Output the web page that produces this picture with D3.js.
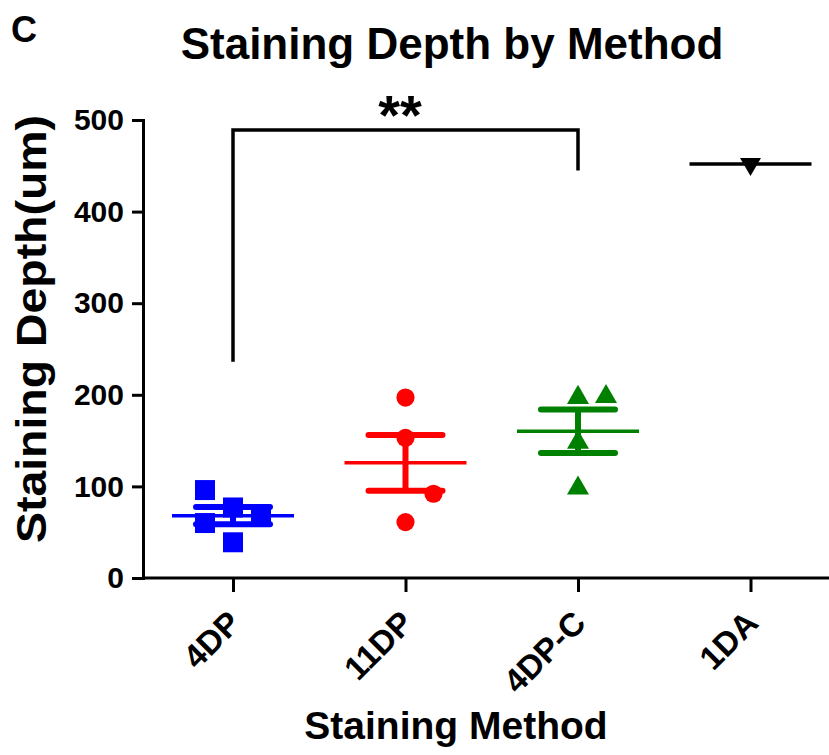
<!DOCTYPE html>
<html>
<head>
<meta charset="utf-8">
<script src="https://cdn.jsdelivr.net/npm/d3@7"></script>
<style>
  body { margin: 0; background: #fff; }
  svg { display: block; font-family: Arial, "Liberation Sans", sans-serif; }
  .axis path, .axis line { stroke: #000; stroke-width: 3; }
  .axis text { font-weight: bold; fill: #000; }
  .y-axis text { font-size: 30px; }
  .x-axis text { font-size: 33px; }
</style>
</head>
<body>
<div id="chart"></div>
<script>
const methods = ['4DP', '11DP', '4DP-C', '1DA'];
const depth4DP = [77, 68, 96, 60, 39];
const depth11DP = [197, 153, 61, 92];
const depth4DPC = [197, 198, 148, 98];
const depth1DA = [452];
const colors = ['#0000ff', '#ff0000', '#008000', '#000000'];
const yTicks = [0, 100, 200, 300, 400, 500];

// significance bracket between 4DP and 4DP-C
const bracketPair = ['4DP', '4DP-C'];
const bracketLevels = [489, 236, 445]; // top, left foot, right foot
const bracketLabel = '**';

const groups = [depth4DP, depth11DP, depth4DPC, depth1DA];

const width = 829;
const height = 755;
const margin = { top: 120, right: 0, bottom: 177, left: 143 };

const svg = d3.select('#chart').append('svg')
  .attr('width', width)
  .attr('height', height);

const x = d3.scalePoint()
  .domain(methods)
  .range([233, 750.5]);

const y = d3.scaleLinear()
  .domain([0, 500])
  .range([height - margin.bottom, margin.top]);

// symbols per group
const symbolTypes = [d3.symbolSquare, d3.symbolCircle, d3.symbolTriangle, d3.symbolTriangle];
const symbolSizes = [400, 260, 210, 190];

// simple greedy scatter: try centre, then right, then left
function spread(values, slot, minGap) {
  const placed = [];
  values.forEach(v => {
    const py = y(v);
    const candidates = [0, 1, -1, 2, -2];
    let chosen = 0;
    for (const c of candidates) {
      const hit = placed.some(p => p.c === c && Math.abs(p.py - py) < minGap);
      if (!hit) { chosen = c; break; }
    }
    placed.push({ v: v, py: py, c: chosen });
  });
  return placed.map(p => ({ value: p.v, dx: p.c * slot }));
}

function mean(a) { return d3.mean(a); }
function sem(a) { return a.length > 1 ? d3.deviation(a) / Math.sqrt(a.length) : 0; }

// y axis
const yAxis = svg.append('g')
  .attr('class', 'axis y-axis')
  .attr('transform', 'translate(' + margin.left + ',0)')
  .call(d3.axisLeft(y).tickValues(yTicks).tickSize(11).tickPadding(8).tickSizeOuter(0));
yAxis.select('.domain').attr('stroke-linecap', 'square');

// x axis
const xAxis = svg.append('g')
  .attr('class', 'axis x-axis')
  .attr('transform', 'translate(0,' + y(0) + ')')
  .call(d3.axisBottom(x).tickSize(14).tickSizeOuter(0));
xAxis.select('.domain').attr('d', 'M' + margin.left + ',0H' + width);
xAxis.selectAll('.tick text')
  .attr('text-anchor', 'end')
  .attr('dy', 0)
  .attr('transform', 'translate(9,47) rotate(-45)')
  .attr('y', 0)
  .attr('x', 0);

// points
groups.forEach((vals, i) => {
  const cx = x(methods[i]);
  const pts = spread(vals, 28, 32);
  const sym = d3.symbol().type(symbolTypes[i]).size(symbolSizes[i]);
  svg.append('g').selectAll('path')
    .data(pts)
    .enter().append('path')
    .attr('d', sym)
    .attr('fill', colors[i])
    .attr('transform', d => 'translate(' + (cx + d.dx) + ',' + y(d.value) + ')' + (i === 3 ? ' rotate(180)' : ''));
});

// mean and SEM lines
groups.forEach((vals, i) => {
  const cx = x(methods[i]);
  const m = mean(vals);
  const s = sem(vals);
  const g = svg.append('g').attr('stroke', colors[i]).attr('fill', 'none');
  g.append('line')
    .attr('x1', cx - 61).attr('x2', cx + 61)
    .attr('y1', y(m)).attr('y2', y(m))
    .attr('stroke-width', 3.5);
  if (s > 0) {
    g.append('line')
      .attr('x1', cx).attr('x2', cx)
      .attr('y1', y(m - s)).attr('y2', y(m + s))
      .attr('stroke-width', 6);
    [m - s, m + s].forEach(v => {
      g.append('line')
        .attr('x1', cx - 37).attr('x2', cx + 37)
        .attr('y1', y(v)).attr('y2', y(v))
        .attr('stroke-width', 6)
        .attr('stroke-linecap', 'round');
    });
  }
});

// bracket
const bx1 = x(bracketPair[0]);
const bx2 = x(bracketPair[1]);
svg.append('path')
  .attr('d', d3.line()([
    [bx1, y(bracketLevels[1])],
    [bx1, y(bracketLevels[0])],
    [bx2, y(bracketLevels[0])],
    [bx2, y(bracketLevels[2])]
  ]))
  .attr('fill', 'none')
  .attr('stroke', '#000')
  .attr('stroke-width', 3.5);

svg.append('text')
  .attr('x', 400)
  .attr('y', 134)
  .attr('text-anchor', 'middle')
  .style('font-size', '56px')
  .style('font-weight', 'bold')
  .text(bracketLabel);

// titles
svg.append('text')
  .attr('x', 11).attr('y', 42)
  .style('font-size', '36px').style('font-weight', 'bold')
  .text('C');

svg.append('text')
  .attr('x', 452).attr('y', 59)
  .attr('text-anchor', 'middle')
  .style('font-size', '44px').style('font-weight', 'bold')
  .text('Staining Depth by Method');

svg.append('text')
  .attr('transform', 'translate(46,' + 329 + ') rotate(-90)')
  .attr('text-anchor', 'middle')
  .attr('textLength', 428)
  .attr('lengthAdjust', 'spacingAndGlyphs')
  .style('font-size', '42px').style('font-weight', 'bold')
  .text('Staining Depth(um)');

svg.append('text')
  .attr('x', 456).attr('y', 739)
  .attr('text-anchor', 'middle')
  .style('font-size', '39px').style('font-weight', 'bold')
  .text('Staining Method');
</script>
</body>
</html>
